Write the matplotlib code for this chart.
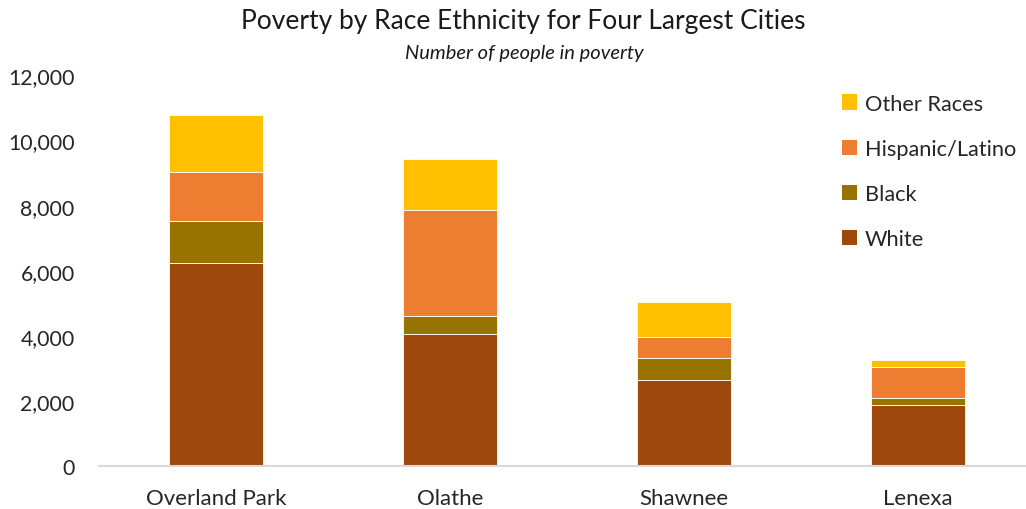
import matplotlib
matplotlib.use("Agg")
import matplotlib.pyplot as plt
from matplotlib.patches import Patch
from matplotlib.ticker import FuncFormatter

cities = ["Overland Park", "Olathe", "Shawnee", "Lenexa"]
white = [6230, 4050, 2630, 1860]
black = [1290, 560, 675, 235]
hispanic = [1500, 3260, 665, 950]
other = [1760, 1555, 1085, 225]

series_names = ["White", "Black", "Hispanic/Latino", "Other Races"]
colors = ["#9E480E", "#997300", "#ED7D31", "#FFC000"]

plt.rcParams['font.family'] = ['Lato', 'DejaVu Sans']

fig = plt.figure(figsize=(10.26, 5.10), dpi=100)
ax = fig.add_axes([99/1026, 1 - 467/510, (1026-99)/1026, (467-76.5)/510])

x = list(range(len(cities)))
bottom = [0]*len(cities)
for vals, c in zip([white, black, hispanic, other], colors):
    ax.bar(x, vals, width=0.4, bottom=bottom, color=c, edgecolor='white', linewidth=0.6, zorder=2)
    bottom = [b + v for b, v in zip(bottom, vals)]

ax.set_xlim(-0.5, 3.5 - 9/234)
ax.set_ylim(0, 12000)
ax.set_yticks(range(0, 12001, 2000))
ax.yaxis.set_major_formatter(FuncFormatter(lambda v, p: f"{int(v):,}"))
ax.set_xticks(x)
ax.set_xticklabels(cities)
for s in ["top", "right", "left"]:
    ax.spines[s].set_visible(False)
ax.spines["bottom"].set_color("#D9D9D9")
ax.spines["bottom"].set_linewidth(1.5)
ax.tick_params(axis='y', length=0, labelsize=15.3, colors="#262626", pad=17.5)
ax.tick_params(axis='x', length=0, labelsize=16, colors="#262626", pad=15.5)

fig.text(523/1026, 1 - 22/510, "Poverty by Race Ethnicity for Four Largest Cities",
         ha='center', va='center', fontsize=19, color="#1a1a1a")
fig.text(524/1026, 1 - 53/510, "Number of people in poverty",
         ha='center', va='center', fontsize=14.5, style='italic', color="#1a1a1a")

handles = [Patch(facecolor=c, label=n) for n, c in zip(series_names, colors)][::-1]
leg = ax.legend(handles=handles, loc='upper left', bbox_to_anchor=(833/1026, 1 - 86/510),
                bbox_transform=fig.transFigure, frameon=False, fontsize=15.7,
                handlelength=0.7, handleheight=0.7, handletextpad=0.35, labelspacing=1.15,
                borderaxespad=0)
for t in leg.get_texts():
    t.set_color("#262626")

fig.savefig("out.png", dpi=100)
